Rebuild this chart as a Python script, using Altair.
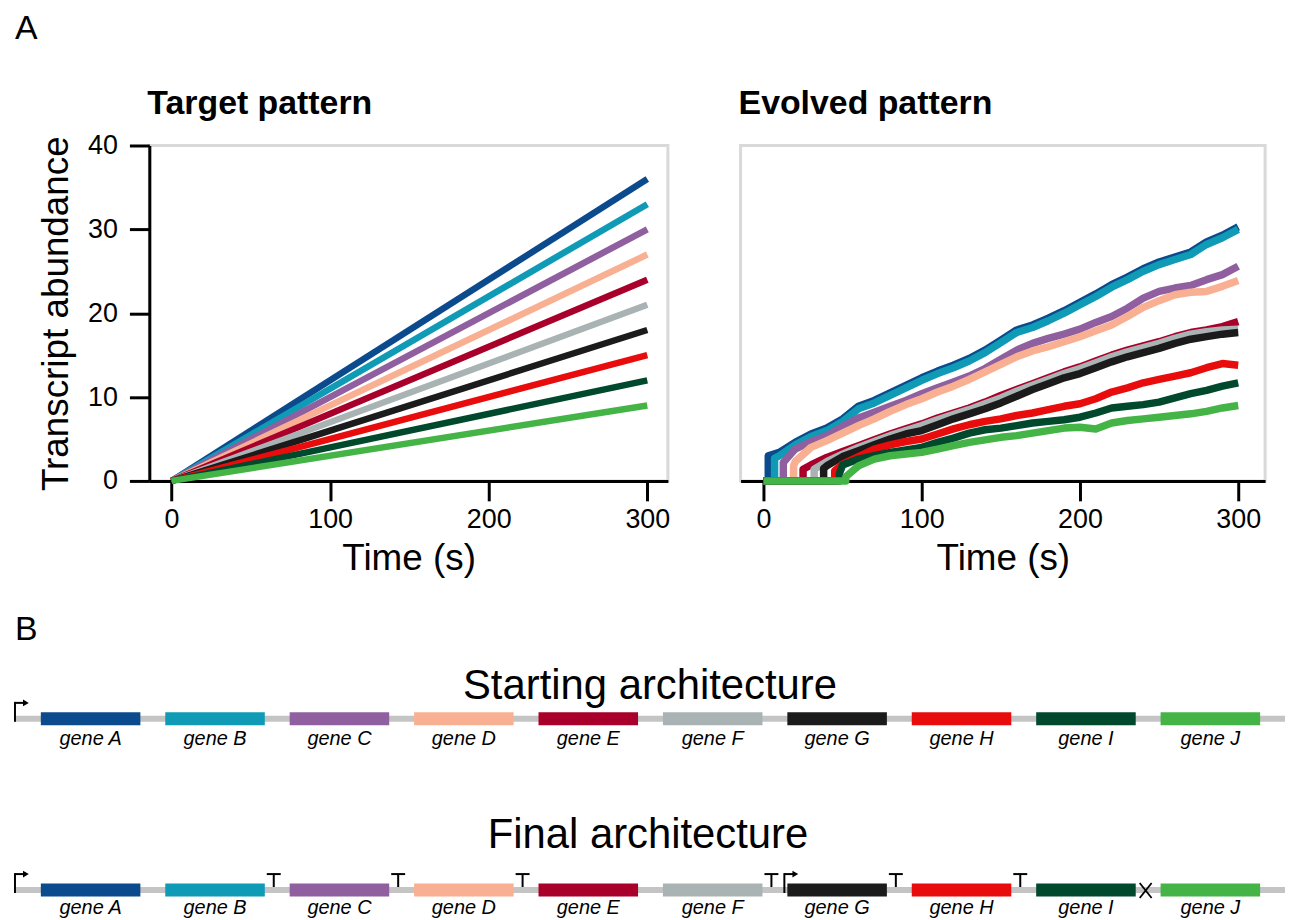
import altair as alt
import pandas as pd

# ---------------- data ----------------
genes = ["gene A", "gene B", "gene C", "gene D", "gene E",
         "gene F", "gene G", "gene H", "gene I", "gene J"]
colors = ["#0b4a8c", "#0f9ab5", "#905f9f", "#f9b092", "#a8002a",
          "#a9b3b4", "#1b1b1b", "#e80c0c", "#00492d", "#44b447"]

# Target pattern: linear ramps, value reached at t = 300 s
target_end = [36, 33, 30, 27, 24, 21, 18, 15, 12, 9]

# Evolved pattern: onset time / first level, then values at t = 10, 20, ..., 300
grid_t = list(range(10, 301, 10))
onset_t = [3, 7, 12.5, 19, 25, 32, 38, 45, 48, 52]
onset_v = [3.0, 2.7, 2.2, 1.8, 1.4, 1.4, 1.5, 1.2, 0.9, 0.5]
evo_A = [3.4, 4.6, 5.6, 6.3, 7.4, 8.9, 9.6, 10.5, 11.4, 12.3, 13.1, 13.8, 14.6, 15.6, 16.8,
         18.0, 18.6, 19.4, 20.3, 21.3, 22.3, 23.4, 24.3, 25.3, 26.1, 26.7, 27.3, 28.5, 29.3, 30.3]
evo_B = [3.0, 4.3, 5.3, 6.0, 7.1, 8.6, 9.3, 10.2, 11.1, 12.0, 12.8, 13.5, 14.3, 15.3, 16.5,
         17.7, 18.3, 19.1, 20.0, 21.0, 22.0, 23.1, 24.0, 25.0, 25.8, 26.4, 27.0, 28.2, 29.0, 30.0]
evo_C = [0, 3.8, 4.7, 5.4, 6.5, 7.5, 8.2, 8.9, 9.6, 10.4, 11.1, 11.8, 12.5, 13.4, 14.5,
         15.6, 16.4, 17.0, 17.5, 18.1, 18.9, 19.6, 20.6, 21.8, 22.6, 23.0, 23.3, 24.0, 24.6, 25.6]
evo_D = [0, 2.3, 4.0, 4.8, 5.7, 6.6, 7.4, 8.3, 9.1, 9.8, 10.6, 11.3, 12.1, 13.0, 13.9,
         14.8, 15.5, 16.0, 16.6, 17.2, 17.9, 18.6, 19.6, 20.7, 21.5, 22.2, 22.5, 22.6, 23.2, 23.9]
evo_E = [0, 0, 1.9, 2.8, 3.5, 4.2, 4.9, 5.6, 6.2, 6.8, 7.5, 8.1, 8.7, 9.4, 10.2,
         10.9, 11.6, 12.3, 13.0, 13.6, 14.3, 15.0, 15.6, 16.1, 16.6, 17.2, 17.7, 18.0, 18.4, 19.0]
evo_F = [0, 0, 0, 2.3, 3.2, 4.0, 4.7, 5.4, 6.0, 6.6, 7.3, 7.9, 8.5, 9.2, 9.9,
         10.7, 11.4, 12.1, 12.8, 13.4, 14.1, 14.8, 15.4, 15.9, 16.4, 17.0, 17.5, 17.8, 18.0, 18.1]
evo_G = [0, 0, 0, 1.8, 2.9, 3.6, 4.3, 5.0, 5.6, 6.0, 6.7, 7.4, 8.0, 8.6, 9.3,
         10.1, 10.9, 11.6, 12.3, 12.8, 13.5, 14.2, 14.8, 15.3, 15.8, 16.4, 16.9, 17.2, 17.5, 17.7]
evo_H = [0, 0, 0, 0, 2.0, 2.9, 3.8, 4.3, 4.7, 5.0, 5.6, 6.2, 6.7, 7.1, 7.4,
         7.8, 8.1, 8.5, 8.9, 9.2, 9.8, 10.6, 11.1, 11.7, 12.1, 12.5, 12.9, 13.5, 14.0, 13.8]
evo_I = [0, 0, 0, 0, 1.9, 2.6, 3.0, 3.4, 3.7, 4.0, 4.6, 5.1, 5.7, 6.1, 6.3,
         6.6, 6.9, 7.1, 7.3, 7.6, 8.1, 8.7, 8.9, 9.1, 9.4, 9.9, 10.4, 10.8, 11.3, 11.7]
evo_J = [0, 0, 0, 0, 0, 1.8, 2.6, 3.0, 3.2, 3.4, 3.8, 4.2, 4.6, 4.9, 5.2,
         5.4, 5.7, 6.0, 6.3, 6.4, 6.2, 6.9, 7.2, 7.4, 7.6, 7.8, 8.0, 8.3, 8.7, 9.0]
evolved = [evo_A, evo_B, evo_C, evo_D, evo_E, evo_F, evo_G, evo_H, evo_I, evo_J]

# Architectures (positions in gene slots: gene i spans i .. i + gene_len)
gene_len = 0.8
backbone_start, backbone_end = -0.208, 10.0
start_promoters = [-0.208]
final_promoters = [-0.208, 5.976]
final_terminators_after = ["gene B", "gene C", "gene D", "gene F", "gene G", "gene H"]
final_blocked_after = ["gene I"]
row_titles = ["Starting architecture", "Final architecture"]
panel_titles = ["Target pattern", "Evolved pattern"]
panel_labels = ["A", "B"]

# ---------------- tables ----------------
tgt_rows = []
for g, v in zip(genes, target_end):
    tgt_rows.append({"gene": g, "t": 0, "v": 0, "i": 0})
    tgt_rows.append({"gene": g, "t": 300, "v": v, "i": 1})
df_target = pd.DataFrame(tgt_rows)

evo_rows = []
for g, ot, ov, vals in zip(genes, onset_t, onset_v, evolved):
    k = 0
    for t, v in [(0, 0), (ot, 0), (ot, ov)]:
        evo_rows.append({"gene": g, "t": t, "v": v, "i": k}); k += 1
    for t, v in zip(grid_t, vals):
        if t > ot:
            evo_rows.append({"gene": g, "t": t, "v": v, "i": k}); k += 1
df_evo = pd.DataFrame(evo_rows)

df_backbone = pd.DataFrame({"row": [0, 1], "x0": [backbone_start] * 2, "x1": [backbone_end] * 2})
df_genes = pd.DataFrame([{"row": r, "gene": g, "x0": i, "x1": i + gene_len, "xc": i + gene_len / 2}
                         for r in (0, 1) for i, g in enumerate(genes)])
df_prom = pd.DataFrame([{"row": 0, "pos": p} for p in start_promoters] +
                       [{"row": 1, "pos": p} for p in final_promoters])
df_term = pd.DataFrame([{"row": 1, "pos": genes.index(g) + gene_len + 0.072} for g in final_terminators_after])
df_block = pd.DataFrame([{"row": 1, "pos": genes.index(g) + gene_len + 0.08} for g in final_blocked_after])
df_titles = pd.DataFrame({"row": [0, 1], "text": row_titles, "xc": [4.896, 4.88]})
df_A = pd.DataFrame({"text": [panel_labels[0]]})
df_B = pd.DataFrame({"row": [0], "pos": [backbone_start], "text": [panel_labels[1]]})
df_pt = pd.DataFrame({"text": panel_titles})

FONT = "Liberation Sans"
cscale = alt.Scale(domain=genes, range=colors)

def x_axis():
    return alt.Axis(values=[0, 100, 200, 300], title="Time (s)", grid=False,
                    domainColor="black", domainWidth=3, tickColor="black", tickWidth=3,
                    tickSize=20, labelFontSize=27, titleFontSize=37, titleFontWeight="normal",
                    labelColor="black", titleColor="black", labelPadding=6, titlePadding=8,
                    labelFont=FONT, titleFont=FONT)

def panel_title(idx):
    return alt.Chart(df_pt).transform_filter(f"datum.text == '{panel_titles[idx]}'").mark_text(
        fontSize=34, fontWeight="bold", font=FONT, align="left", baseline="alphabetic",
        color="black").encode(x=alt.value(-2), y=alt.value(-32), text="text:N")

view_frame = alt.ViewBackground(stroke="#d9d9d9", strokeWidth=3)

left_lines = alt.Chart(df_target).mark_line(strokeWidth=6.5, strokeCap="butt").encode(
    x=alt.X("t:Q", scale=alt.Scale(domain=[-14, 313], nice=False, zero=False), axis=x_axis()),
    y=alt.Y("v:Q", scale=alt.Scale(domain=[0, 40], nice=False),
            axis=alt.Axis(values=[0, 10, 20, 30, 40], title="Transcript abundance", grid=False,
                          domainColor="black", domainWidth=3, tickColor="black", tickWidth=3,
                          tickSize=20, labelFontSize=27, titleFontSize=37, titleFontWeight="normal",
                          labelColor="black", titleColor="black", labelPadding=12, titlePadding=12,
                          labelFont=FONT, titleFont=FONT)),
    color=alt.Color("gene:N", scale=cscale, legend=None),
    order=alt.Order("i:Q"),
)
label_A = alt.Chart(df_A).mark_text(fontSize=34, font=FONT, align="left", baseline="alphabetic",
                                    color="black").encode(
    x=alt.value(-135), y=alt.value(-107), text="text:N")

left = alt.layer(left_lines, panel_title(0), label_A).properties(
    width=521, height=337, view=view_frame)

right_lines = alt.Chart(df_evo).mark_line(strokeWidth=7.5, strokeJoin="round").encode(
    x=alt.X("t:Q", scale=alt.Scale(domain=[-14.5, 317], nice=False, zero=False), axis=x_axis()),
    y=alt.Y("v:Q", scale=alt.Scale(domain=[0, 40], nice=False), axis=None),
    color=alt.Color("gene:N", scale=cscale, legend=None),
    order=alt.Order("i:Q"),
)
right = alt.layer(right_lines, panel_title(1)).properties(width=527, height=337, view=view_frame)

top = alt.hconcat(left, right, spacing=65)

# ---------------- diagram ----------------
DX = alt.Scale(domain=[0.872, 10.0], nice=False, zero=False)
DY = alt.Scale(domain=[0, 1], range=[118, 290], nice=False, zero=False)
W, H = 1141, 300

def xe(f):
    return alt.X(f, scale=DX, axis=None)

def ye(f="row:Q"):
    return alt.Y(f, scale=DY, axis=None)

backbone = alt.Chart(df_backbone).mark_rule(color="#c4c4c4", strokeWidth=6, strokeCap="butt").encode(
    x=xe("x0:Q"), x2="x1:Q", y=ye())

gene_bars = alt.Chart(df_genes).mark_rule(strokeWidth=13, strokeCap="butt").encode(
    x=xe("x0:Q"), x2="x1:Q", y=ye(),
    color=alt.Color("gene:N", scale=cscale, legend=None))

gene_labels0 = alt.Chart(df_genes).transform_filter("datum.row == 0").mark_text(
    fontSize=20, fontStyle="italic", font=FONT, dy=26, baseline="alphabetic", color="black").encode(
    x=xe("xc:Q"), y=ye(), text="gene:N")
gene_labels1 = alt.Chart(df_genes).transform_filter("datum.row == 1").mark_text(
    fontSize=20, fontStyle="italic", font=FONT, dy=24, baseline="alphabetic", color="black").encode(
    x=xe("xc:Q"), y=ye(), text="gene:N")

prom_stem = alt.Chart(df_prom).mark_rule(color="black", strokeWidth=2, yOffset=3, y2Offset=-17).encode(
    x=xe("pos:Q"), y=ye(), y2="row:Q")
prom_arm = alt.Chart(df_prom).mark_rule(color="black", strokeWidth=2, yOffset=-16, x2Offset=9).encode(
    x=xe("pos:Q"), x2="pos:Q", y=ye())
prom_head = alt.Chart(df_prom).mark_point(shape="triangle-right", filled=True, color="black",
                                          size=45, opacity=1, xOffset=11, yOffset=-16).encode(
    x=xe("pos:Q"), y=ye())

term_stem = alt.Chart(df_term).mark_rule(color="black", strokeWidth=2, yOffset=-3, y2Offset=-16).encode(
    x=xe("pos:Q"), y=ye(), y2="row:Q")
term_bar = alt.Chart(df_term).mark_rule(color="black", strokeWidth=2, yOffset=-16,
                                        xOffset=-7, x2Offset=7).encode(
    x=xe("pos:Q"), x2="pos:Q", y=ye())

block_a = alt.Chart(df_block).mark_rule(color="black", strokeWidth=1.8, xOffset=-6, x2Offset=6,
                                        yOffset=-7, y2Offset=8).encode(
    x=xe("pos:Q"), x2="pos:Q", y=ye(), y2="row:Q")
block_b = alt.Chart(df_block).mark_rule(color="black", strokeWidth=1.8, xOffset=-6, x2Offset=6,
                                        yOffset=8, y2Offset=-7).encode(
    x=xe("pos:Q"), x2="pos:Q", y=ye(), y2="row:Q")

title0 = alt.Chart(df_titles).transform_filter("datum.row == 0").mark_text(
    fontSize=42, font=FONT, dy=-20, baseline="alphabetic", align="center", color="black").encode(
    x=xe("xc:Q"), y=ye(), text="text:N")
title1 = alt.Chart(df_titles).transform_filter("datum.row == 1").mark_text(
    fontSize=42, font=FONT, dy=-42, baseline="alphabetic", align="center", color="black").encode(
    x=xe("xc:Q"), y=ye(), text="text:N")

label_B = alt.Chart(df_B).mark_text(fontSize=34, font=FONT, dy=-79, baseline="alphabetic",
                                    align="left", color="black").encode(
    x=xe("pos:Q"), y=ye(), text="text:N")

diagram = alt.layer(backbone, gene_bars, gene_labels0, gene_labels1, prom_stem, prom_arm, prom_head,
                    term_stem, term_bar, block_a, block_b, title0, title1, label_B).properties(
    width=W, height=H, view=alt.ViewBackground(strokeWidth=0))

chart = alt.vconcat(top, diagram, spacing=23).properties(
    padding={"left": 4, "top": 0, "right": 0, "bottom": 0},
).configure(font=FONT).configure_view(strokeWidth=0)

chart.save("out.html", embed_options={"renderer": "svg", "actions": False})
